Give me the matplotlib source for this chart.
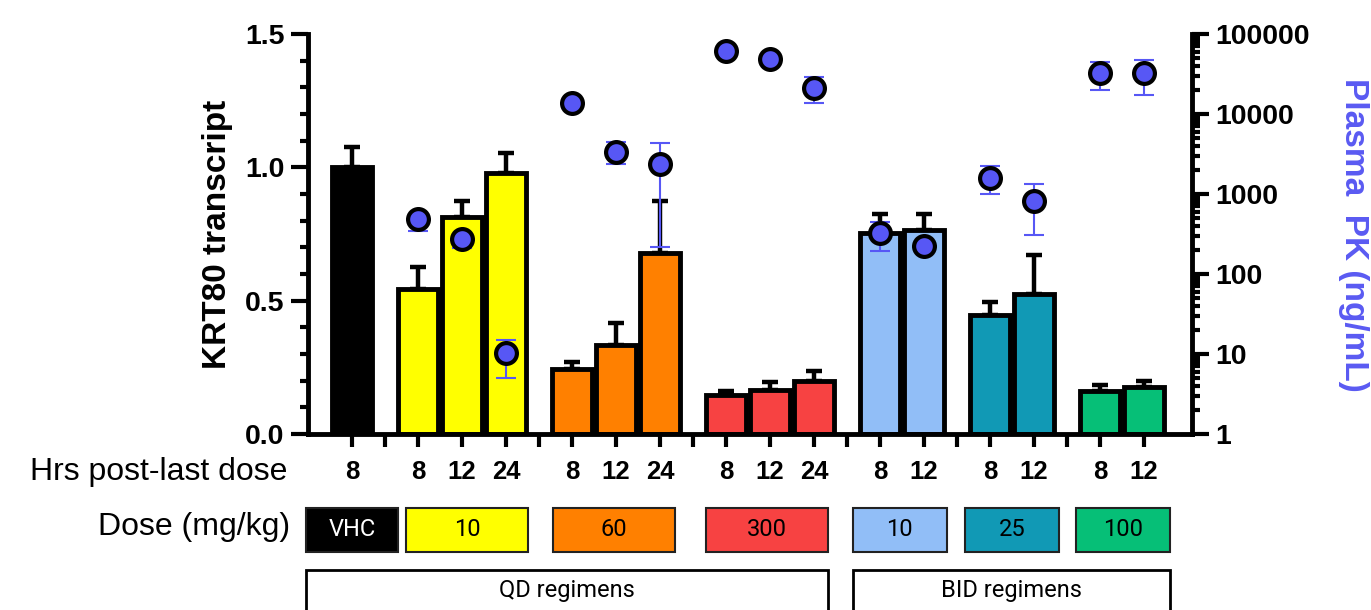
import numpy as np
import matplotlib
matplotlib.use('Agg')
import matplotlib.pyplot as plt
from matplotlib.patches import Rectangle
from matplotlib.transforms import blended_transform_factory
from matplotlib.ticker import FixedLocator, NullFormatter

plt.rcParams['font.family'] = ['Liberation Sans', 'DejaVu Sans']

# ---------------- data ----------------
dose_labels = ['VHC', '10', '60', '300', '10', '25', '100']
dose_colors = ['#000000', '#FFFF00', '#FF8000', '#F74242', '#91BEF7', '#1199B5', '#06BF77']
hrs = [[8], [8, 12, 24], [8, 12, 24], [8, 12, 24], [8, 12], [8, 12], [8, 12]]
regimens = ['QD regimens', 'BID regimens']
regimen_groups = [[0, 1, 2, 3], [4, 5, 6]]

krt80_mean = [1.00, 0.545, 0.815, 0.98, 0.245, 0.335, 0.68, 0.148, 0.165, 0.20,
              0.755, 0.765, 0.445, 0.525, 0.16, 0.178]
krt80_err = [0.075, 0.08, 0.06, 0.075, 0.025, 0.08, 0.195, 0.012, 0.03, 0.035,
             0.07, 0.06, 0.05, 0.145, 0.025, 0.02]

pk_mean = [np.nan, 490, 275, 10.3, 13700, 3350, 2370, 61000, 48700, 21000,
           327, 225, 1580, 820, 32500, 32500]
pk_lo = [np.nan, 345, 210, 5, 12000, 2370, 218, 55000, 44000, 13700,
         194, 190, 1000, 307, 20000, 17400]
pk_hi = [np.nan, 560, 300, 15, 15500, 4470, 4340, 67000, 54000, 29000,
         447, 260, 2240, 1330, 44700, 47300]

# ---------------- layout ----------------
gap = 1.5
xs, cols, labs, centers, seps = [], [], [], [], []
pos = 0.0
for i, h in enumerate(hrs):
    p = [pos + k for k in range(len(h))]
    xs += p
    cols += [dose_colors[i]] * len(h)
    labs += [str(v) for v in h]
    centers.append(np.mean(p))
    if i < len(hrs) - 1:
        seps.append(p[-1] + 0.75)
    pos = p[-1] + gap
xs = np.array(xs)
box_w = {1: 2.07, 2: 2.14, 3: 2.77}
box_shift = [0, 0.12, -0.05, -0.07, -0.05, 0, 0.03]

fig = plt.figure(figsize=(13.71, 6.10), dpi=100)
ax = fig.add_axes([308/1371, 1-434/610, (1192-308)/1371, 400/610])

lw = 3.5
ax.bar(xs, krt80_mean, width=0.9, color=cols, edgecolor='black', linewidth=lw, zorder=2)
ax.errorbar(xs, krt80_mean, yerr=[np.zeros(len(xs)), krt80_err], fmt='none',
            ecolor='black', elinewidth=3.2, capsize=6, capthick=3.2, zorder=1)

ax.set_xlim(-1.0, 19.09)
ax.set_ylim(0, 1.5)
ax.set_yticks([0, 0.5, 1.0, 1.5])
ax.set_yticklabels(['0.0', '0.5', '1.0', '1.5'])
ax.yaxis.set_minor_locator(FixedLocator(np.arange(0, 1.51, 0.1)))
ax.set_xticks(xs)
ax.set_xticklabels(labs)
ax.xaxis.set_minor_locator(FixedLocator(seps))
ax.xaxis.set_minor_formatter(NullFormatter())

for s in ['top', 'right']:
    ax.spines[s].set_visible(False)
for s in ['left', 'bottom']:
    ax.spines[s].set_linewidth(lw)
ax.tick_params(axis='y', which='major', length=12, width=3, labelsize=20.5, pad=5)
ax.tick_params(axis='y', which='minor', length=6, width=3)
ax.tick_params(axis='x', which='both', length=9, width=3, labelsize=18.5, pad=10)
for t in ax.get_xticklabels() + ax.get_yticklabels():
    t.set_fontweight('bold')

# right axis with PK
ax2 = ax.twinx()
ax2.set_yscale('log')
ax2.set_ylim(1, 100000)
pm = np.array(pk_mean)
yerr2 = [pm - np.array(pk_lo), np.array(pk_hi) - pm]
ax2.errorbar(xs, pm, yerr=yerr2, fmt='none', ecolor='#5757F5',
             elinewidth=1.5, capsize=7, capthick=1.5, zorder=2)
ax2.plot(xs, pm, 'o', color='#5757F5', markersize=15, markeredgecolor='black',
         markeredgewidth=3, zorder=3)
ax2.set_yticks([1, 10, 100, 1000, 10000, 100000])
ax2.set_yticklabels(['1', '10', '100', '1000', '10000', '100000'])
for s in ['top', 'left', 'bottom']:
    ax2.spines[s].set_visible(False)
ax2.spines['right'].set_linewidth(lw)
ax2.tick_params(axis='y', which='major', length=12, width=3, labelsize=20.5, pad=5)
ax2.tick_params(axis='y', which='minor', length=6, width=3)
for t in ax2.get_yticklabels():
    t.set_fontweight('bold')

fig.text(0.159, 0.615, 'KRT80 transcript', rotation=90, ha='center', va='center',
         fontsize=24, fontweight='bold')
fig.text(0.987, 0.615, 'Plasma  PK (ng/mL)', rotation=270, ha='center', va='center',
         fontsize=24, fontweight='bold', color='#5A5AF2')

# bottom annotations
fig.text(287/1371, 1-472/610, 'Hrs post-last dose', ha='right', va='center', fontsize=23)
fig.text(290/1371, 1-527/610, 'Dose (mg/kg)', ha='right', va='center', fontsize=23)

tr = blended_transform_factory(ax.transData, fig.transFigure)
y0, y1 = 1-552/610, 1-508/610
boxes = []
for i, c in enumerate(centers):
    w = box_w[len(hrs[i])]
    cc = c + box_shift[i]
    left = cc - w/2
    boxes.append((left, left + w))
    ax.add_patch(Rectangle((left, y0), w, y1 - y0, transform=tr, clip_on=False,
                           facecolor=dose_colors[i], edgecolor='#222222', linewidth=1.5))
    fig.text(cc, (y0 + y1)/2, dose_labels[i], transform=tr, ha='center', va='center',
             fontsize=17, family='Roboto', color='white' if i == 0 else 'black')

r_top = 1-570/610
for name, g in zip(regimens, regimen_groups):
    left = boxes[g[0]][0]
    right = boxes[g[-1]][1]
    ax.add_patch(Rectangle((left, -0.05), right - left, r_top + 0.05, transform=tr,
                           clip_on=False, facecolor='white', edgecolor='black', linewidth=2))
    fig.text((left + right)/2, 1-590/610, name, transform=tr, ha='center', va='center',
             fontsize=17, family='Roboto')

fig.savefig('out.png', dpi=100)
